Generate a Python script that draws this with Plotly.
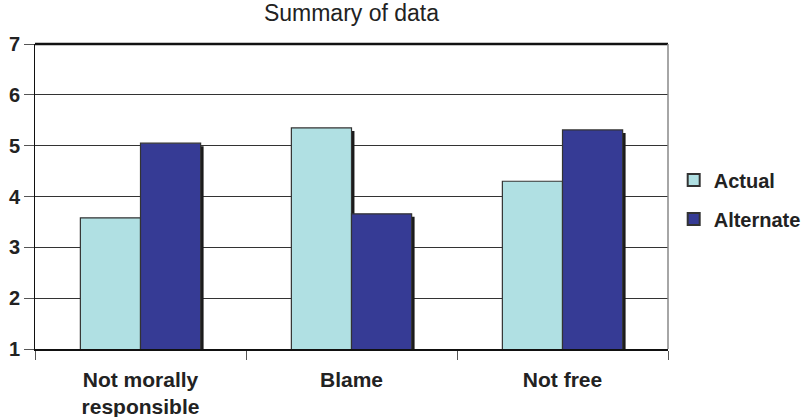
import plotly.graph_objects as go

categories = ["Not morally<br>responsible", "Blame", "Not free"]
actual = [3.58, 5.35, 4.30]
alternate = [5.05, 3.66, 5.31]
y_ticks = [1, 2, 3, 4, 5, 6, 7]

colors = {"Actual": "#B0E0E3", "Alternate": "#363B95"}
bar_w = 0.285
shadow_dx = 0.014
shadow_dy = 0.06
FONT = "Liberation Sans, Arial"

fig = go.Figure()

# drop shadows behind each bar
for vals, off in [(actual, -bar_w), (alternate, 0.0)]:
    fig.add_trace(go.Bar(
        x=categories, y=vals, base=-shadow_dy, width=bar_w, offset=off + shadow_dx,
        marker=dict(color="#1a1a1a", line=dict(width=0)),
        showlegend=False, hoverinfo="skip",
    ))

for name, vals, off in [("Actual", actual, -bar_w), ("Alternate", alternate, 0.0)]:
    fig.add_trace(go.Bar(
        x=categories, y=vals, width=bar_w, offset=off, name=name, legendgroup=name,
        marker=dict(color=colors[name], line=dict(color="#333333", width=1.2)),
    ))

fig.update_layout(
    width=809, height=417,
    margin=dict(l=35, r=141, t=44, b=68, autoexpand=False),
    barmode="overlay",
    plot_bgcolor="white", paper_bgcolor="white",
    font=dict(family=FONT, color="#222222"),
    title=dict(text="Summary of data", x=(35 + 668) / 2 / 809, xanchor="center",
               y=1 - 13 / 417, yanchor="middle",
               font=dict(size=23, color="#222222", family=FONT)),
    legend=dict(x=1.009, y=0.49, xanchor="left", yanchor="middle",
                font=dict(size=20, color="#222222", family=FONT, weight="bold"),
                tracegroupgap=10, itemsizing="constant", bgcolor="rgba(0,0,0,0)"),
    xaxis=dict(
        type="category", tickson="boundaries", ticks="outside", ticklen=9,
        tickcolor="#555555", showgrid=False, showline=True, linecolor="#111111",
        linewidth=1.5, range=[-0.5, 2.5], ticklabelstandoff=11,
        tickfont=dict(size=21, family=FONT, color="#222222", weight="bold"),
    ),
    yaxis=dict(
        range=[1, 7], tickvals=y_ticks, ticks="outside", ticklen=10,
        tickcolor="#555555", showgrid=True, gridcolor="#333333", gridwidth=1,
        showline=True, linecolor="#111111", linewidth=1, zeroline=False,
        tickfont=dict(size=20, family=FONT, color="#222222", weight="bold"),
    ),
)

# heavy top border and light right border of the plot frame
fig.add_shape(type="line", xref="paper", yref="paper", x0=0, x1=1, y0=1, y1=1,
              line=dict(color="#111111", width=2.5))
fig.add_shape(type="line", xref="paper", yref="paper", x0=1, x1=1, y0=0, y1=1,
              line=dict(color="#888888", width=1.5))

fig.write_html("out.html")
